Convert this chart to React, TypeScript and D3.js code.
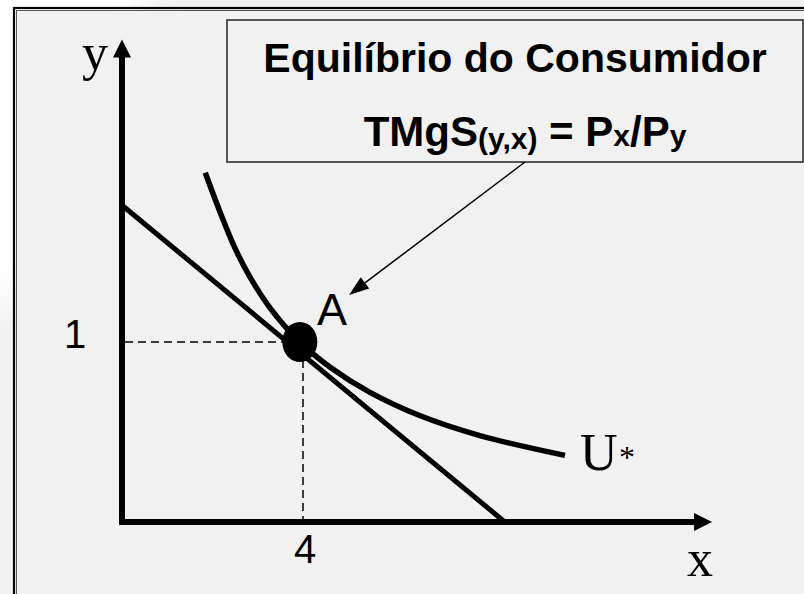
import React from "react";
import * as d3 from "d3";

// ---- data ----
const budgetX = [0, 8.46];
const budgetY = [1.76, 0];
const curveX = [1.84, 2.17, 2.5, 2.83, 3.27, 3.93, 4.6, 5.48, 6.59, 7.91, 9.79];
const curveY = [1.94, 1.72, 1.52, 1.36, 1.19, 1.0, 0.86, 0.72, 0.59, 0.48, 0.37];
const pointAX = [3.93];
const pointAY = [1.0];
const xTickValues = [4];
const xTickLabels = ["4"];
const yTickValues = [1];
const yTickLabels = ["1"];
const axisMax = [13.04, 2.68];

export default function App() {
  const W = 804;
  const H = 594;
  const x = d3.scaleLinear().domain([0, 4]).range([122, 303]);
  const y = d3.scaleLinear().domain([0, 1]).range([522, 342]);

  const line = d3
    .line<[number, number]>()
    .x((d) => x(d[0]))
    .y((d) => y(d[1]));
  const curveLine = d3
    .line<[number, number]>()
    .x((d) => x(d[0]))
    .y((d) => y(d[1]))
    .curve(d3.curveCatmullRom.alpha(0.5));

  const budgetPts: [number, number][] = budgetX.map((v, i) => [v, budgetY[i]]);
  const curvePts: [number, number][] = curveX.map((v, i) => [v, curveY[i]]);

  const ax = x(pointAX[0]);
  const ay = y(pointAY[0]);
  const x0 = x(0);
  const y0 = y(0);
  const xEnd = x(axisMax[0]);
  const yEnd = y(axisMax[1]);

  const sans = "'Liberation Sans', Arial, Helvetica, sans-serif";
  const serif = "'Liberation Serif', 'Times New Roman', serif";

  // annotation arrow from box to A
  const arrFrom = [525, 162];
  const arrTo = [349, 295];
  const ang = Math.atan2(arrTo[1] - arrFrom[1], arrTo[0] - arrFrom[0]);
  const hl = 20;
  const hw = 7;
  const bx = arrTo[0] - hl * Math.cos(ang);
  const by = arrTo[1] - hl * Math.sin(ang);
  const head = `M${arrTo[0]},${arrTo[1]} L${bx + hw * Math.sin(ang)},${by - hw * Math.cos(ang)} L${bx - hw * Math.sin(ang)},${by + hw * Math.cos(ang)} Z`;

  return (
    <svg
      width={W}
      height={H}
      style={{ position: "absolute", left: 0, top: 0, display: "block" }}
    >
      <defs>
        <filter id="blur" x="-50%" y="-50%" width="200%" height="200%">
          <feGaussianBlur stdDeviation="18" />
        </filter>
      </defs>
      <rect x={0} y={0} width={W} height={H} fill="#f1f1f1" />
      <ellipse cx={-140} cy={-60} rx={290} ry={420} fill="#ffffff" filter="url(#blur)" />

      {/* outer frame */}
      <rect x={14} y={8} width={W + 20} height={H + 20} fill="none" stroke="#000" strokeWidth={2.2} />
      <rect x={16.5} y={10.5} width={W + 20} height={H + 20} fill="none" stroke="#555" strokeWidth={1} />
      <rect x={17} y={11} width={W} height={H} fill="#f1f1f1" />

      {/* title box */}
      <rect x={227} y={20} width={576} height={142} fill="#f1f1f1" stroke="#222" strokeWidth={1.5} />
      <text x={515} y={72} textAnchor="middle" fontFamily={sans} fontWeight="bold" fontSize={41} fill="#000">
        Equilíbrio do Consumidor
      </text>
      <text x={525} y={146} textAnchor="middle" fontFamily={sans} fontWeight="bold" fontSize={42} fill="#000">
        TMgS
        <tspan fontSize={30} dy={3}>(y,x)</tspan>
        <tspan dy={-3}> = P</tspan>
        <tspan fontSize={30}>x</tspan>
        <tspan>/P</tspan>
        <tspan fontSize={30}>y</tspan>
      </text>

      {/* arrow to A */}
      <line x1={arrFrom[0]} y1={arrFrom[1]} x2={bx} y2={by} stroke="#000" strokeWidth={1.5} />
      <path d={head} fill="#000" />

      {/* dashed guides */}
      {yTickValues.map((v) => (
        <line key={"hy" + v} x1={x0 + 3} y1={y(v)} x2={ax - 10} y2={y(v)} stroke="#000" strokeWidth={1.5} strokeDasharray="8 5" />
      ))}
      {xTickValues.map((v) => (
        <line key={"vx" + v} x1={x(v)} y1={ay + 18} x2={x(v)} y2={y0 - 3} stroke="#000" strokeWidth={1.5} strokeDasharray="8 5" />
      ))}

      {/* budget line */}
      <path d={line(budgetPts) || ""} fill="none" stroke="#000" strokeWidth={5} />
      {/* indifference curve */}
      <path d={curveLine(curvePts) || ""} fill="none" stroke="#000" strokeWidth={5.5} />

      {/* axes */}
      <path d={`M${x0},${yEnd + 16} L${x0},${y0} L${xEnd - 16},${y0}`} fill="none" stroke="#000" strokeWidth={6} strokeLinejoin="miter" />
      <path d={`M${x0},${yEnd} L${x0 + 9},${yEnd + 18} L${x0 - 9},${yEnd + 18} Z`} fill="#000" />
      <path d={`M${xEnd},${y0} L${xEnd - 18},${y0 - 9} L${xEnd - 18},${y0 + 9} Z`} fill="#000" />

      {/* point A */}
      <ellipse cx={ax} cy={ay} rx={17.5} ry={20} fill="#000" />
      <text x={317} y={325} fontFamily={sans} fontSize={45} fill="#000">A</text>

      {/* tick labels */}
      {yTickValues.map((v, i) => (
        <text key={"yl" + v} x={75} y={y(v) + 6} textAnchor="middle" fontFamily={sans} fontSize={40} fill="#000">
          {yTickLabels[i]}
        </text>
      ))}
      {xTickValues.map((v, i) => (
        <text key={"xl" + v} x={x(v) + 2} y={563} textAnchor="middle" fontFamily={sans} fontSize={40} fill="#000">
          {xTickLabels[i]}
        </text>
      ))}

      {/* axis labels */}
      <text x={82} y={70} fontFamily={serif} fontSize={52} fill="#000">y</text>
      <text x={687} y={576} fontFamily={serif} fontSize={52} fill="#000">x</text>
      <text x={580} y={470} fontFamily={serif} fontSize={52} fill="#000">U</text>
      <text x={619} y={468} fontFamily={serif} fontSize={32} fill="#000">*</text>
    </svg>
  );
}
